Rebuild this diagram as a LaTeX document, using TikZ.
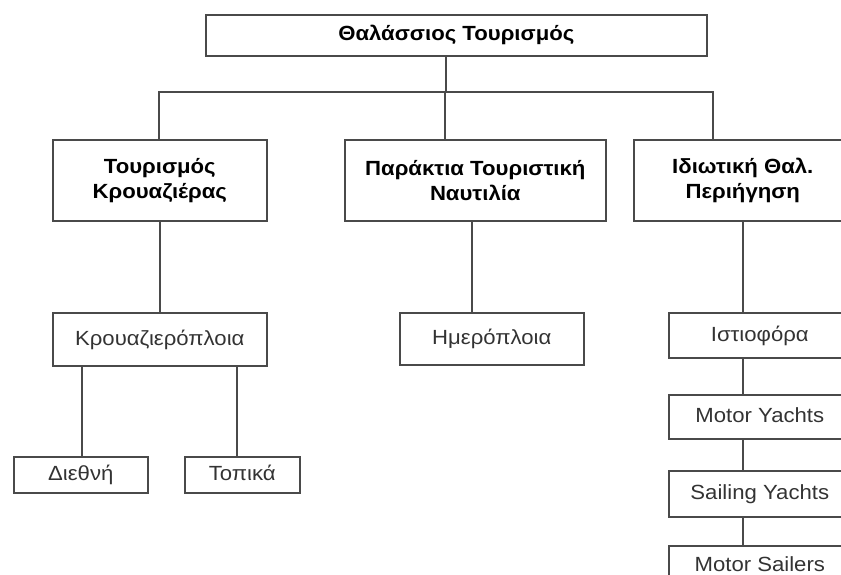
\documentclass[tikz,border=0pt]{standalone}
\usepackage{fontspec}
\setmainfont{Liberation Sans}
\newfontfamily\diagfont{Liberation Sans}[FakeStretch=1.08]
\definecolor{boxgray}{HTML}{4A4A4A}
\definecolor{textgray}{HTML}{333333}
\tikzset{
  box/.style={draw=boxgray, line width=1.6pt, inner sep=0pt, align=center, anchor=north west},
  headbox/.style={box, text=black, font=\diagfont\bfseries\fontsize{20.5}{25}\selectfont},
  leafbox/.style={box, text=textgray, font=\diagfont\fontsize{20.5}{24}\selectfont, text height=15pt, text depth=3pt},
  link/.style={draw=boxgray, line width=1.6pt},
}
\begin{document}
\begin{tikzpicture}[x=1pt,y=-1pt]
\useasboundingbox (0,0) rectangle (841,574);
\clip (0,0) rectangle (841,574);
% level 1
\node[headbox, minimum width=501pt, minimum height=41pt] (top) at (205,14) {Θαλάσσιος Τουρισμός};
% level 2
\node[headbox, minimum width=214pt, minimum height=81pt] (b1) at (52,139) {Τουρισμός\\Κρουαζιέρας};
\node[headbox, minimum width=261pt, minimum height=81pt] (b2) at (344,139) {Παράκτια Τουριστική\\Ναυτιλία};
\node[headbox, minimum width=218pt, minimum height=81pt] (b3) at (633,139) {Ιδιωτική Θαλ.\\Περιήγηση};
% level 3
\node[leafbox, minimum width=214pt, minimum height=53pt] (k) at (52,312) {Κρουαζιερόπλοια};
\node[leafbox, minimum width=184pt, minimum height=52pt] (h) at (399,312) {Ημερόπλοια};
\node[leafbox, minimum width=182pt, minimum height=45pt] (i1) at (668,312) {Ιστιοφόρα};
\node[leafbox, minimum width=182pt, minimum height=44pt] (i2) at (668,394) {Motor Yachts};
\node[leafbox, minimum width=182pt, minimum height=46pt] (i3) at (668,470) {Sailing Yachts};
\node[leafbox, minimum width=182pt, minimum height=40pt] (i4) at (668,545) {Motor Sailers};
% level 4
\node[leafbox, minimum width=134pt, minimum height=36pt] (d) at (13,456) {Διεθνή};
\node[leafbox, minimum width=115pt, minimum height=36pt] (t) at (184,456) {Τοπικά};
% junction coordinates
\coordinate (j0) at (446,92);
\coordinate (jl) at (159,92);
\coordinate (jm) at (445,92);
\coordinate (jr) at (713,92);
\coordinate (xh) at (472,0);
\coordinate (xr) at (743,0);
\coordinate (xd) at (82,0);
\coordinate (xt) at (237,0);
% connectors
\draw[link] (top.south -| j0) -- (j0);
\draw[link] (jl |- b1.north) -- (jl) -- (jr) -- (jr |- b3.north);
\draw[link] (jm) -- (jm |- b2.north);
\draw[link] (b1.south) -- (k.north);
\draw[link] (b2.south -| xh) -- (h.north -| xh);
\draw[link] (b3.south -| xr) -- (i1.north -| xr);
\draw[link] (i1.south -| xr) -- (i2.north -| xr);
\draw[link] (i2.south -| xr) -- (i3.north -| xr);
\draw[link] (i3.south -| xr) -- (i4.north -| xr);
\draw[link] (k.south -| xd) -- (d.north -| xd);
\draw[link] (k.south -| xt) -- (t.north -| xt);
\end{tikzpicture}
\end{document}
